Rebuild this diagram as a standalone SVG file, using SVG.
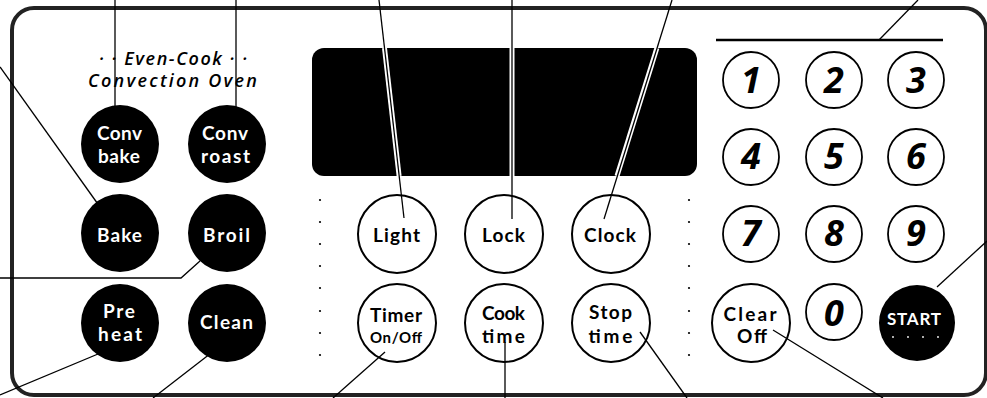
<svg xmlns="http://www.w3.org/2000/svg" width="987" height="398" viewBox="0 0 987 398">
<style>
.lbl{font-family:Lato,"Open Sans","DejaVu Sans",sans-serif;font-weight:700;font-size:19px;text-anchor:middle}
.wt{fill:#ffffff}
.bk{fill:#000000}
.dig{font-family:"Open Sans","Noto Sans","DejaVu Sans",sans-serif;font-weight:700;font-style:italic;font-size:36px;text-anchor:middle;fill:#000}
.brand{font-family:"Open Sans","Noto Sans","DejaVu Sans",sans-serif;font-weight:600;font-style:italic;font-size:18px;fill:#000}
.solid{fill:#000}
.ring{fill:#fff;stroke:#000;stroke-width:2}
.nring{fill:#fff;stroke:#000;stroke-width:1.8}
.lead{stroke:#000;stroke-width:1.3;fill:none}
.halo{stroke:#fff;stroke-width:5;fill:none}
.dot{fill:#000}
</style>
<rect x="0" y="0" width="987" height="398" fill="#fff"/>
<g id="panel">
<rect x="12" y="8" width="974" height="387" rx="22" ry="22" fill="#fff" stroke="#222" stroke-width="4"/>
<rect x="312" y="48" width="385" height="128" rx="12" ry="12" fill="#000"/>
<line x1="716" y1="40" x2="943" y2="40" stroke="#000" stroke-width="2.5"/>
<text class="brand" x="99" y="65" textLength="148" lengthAdjust="spacing">· · Even-Cook · ·</text>
<text class="brand" x="88" y="87" textLength="169" lengthAdjust="spacing">Convection Oven</text>
</g>
<g id="dots">
<circle class="dot" cx="320" cy="200" r="1.1"/><circle class="dot" cx="320" cy="222" r="1.1"/><circle class="dot" cx="320" cy="244" r="1.1"/><circle class="dot" cx="320" cy="266" r="1.1"/><circle class="dot" cx="320" cy="288" r="1.1"/><circle class="dot" cx="320" cy="311" r="1.1"/><circle class="dot" cx="320" cy="333" r="1.1"/><circle class="dot" cx="320" cy="355" r="1.1"/>
<circle class="dot" cx="689" cy="200" r="1.1"/><circle class="dot" cx="689" cy="222" r="1.1"/><circle class="dot" cx="689" cy="244" r="1.1"/><circle class="dot" cx="689" cy="266" r="1.1"/><circle class="dot" cx="689" cy="288" r="1.1"/><circle class="dot" cx="689" cy="311" r="1.1"/><circle class="dot" cx="689" cy="333" r="1.1"/><circle class="dot" cx="689" cy="355" r="1.1"/>
</g>
<g id="btn-convbake"><circle class="solid" cx="120" cy="144" r="39"/><text class="lbl wt" x="119.5" y="140" textLength="45" lengthAdjust="spacing">Conv</text><text class="lbl wt" x="119" y="163" textLength="42" lengthAdjust="spacing">bake</text></g>
<g id="btn-convroast"><circle class="solid" cx="227" cy="144" r="39"/><text class="lbl wt" x="225" y="140" textLength="46" lengthAdjust="spacing">Conv</text><text class="lbl wt" x="225.5" y="163" textLength="49" lengthAdjust="spacing">roast</text></g>
<g id="btn-bake"><circle class="solid" cx="120" cy="233" r="39"/><text class="lbl wt" x="119.5" y="242" textLength="45" lengthAdjust="spacing">Bake</text></g>
<g id="btn-broil"><circle class="solid" cx="227" cy="233" r="39"/><text class="lbl wt" x="226.5" y="242" textLength="47" lengthAdjust="spacing">Broil</text></g>
<g id="btn-preheat"><circle class="solid" cx="120" cy="323" r="39"/><text class="lbl wt" x="119" y="318" textLength="32" lengthAdjust="spacing">Pre</text><text class="lbl wt" x="120" y="341" textLength="44" lengthAdjust="spacing">heat</text></g>
<g id="btn-clean"><circle class="solid" cx="227" cy="323" r="39"/><text class="lbl wt" x="226.5" y="329" textLength="53" lengthAdjust="spacing">Clean</text></g>
<g id="btn-light"><circle class="ring" cx="397" cy="234" r="39"/><text class="lbl bk" x="396.5" y="242" textLength="47" lengthAdjust="spacing">Light</text></g>
<g id="btn-lock"><circle class="ring" cx="504" cy="234" r="39"/><text class="lbl bk" x="503.5" y="242" textLength="43" lengthAdjust="spacing">Lock</text></g>
<g id="btn-clock"><circle class="ring" cx="611" cy="234" r="39"/><text class="lbl bk" x="610" y="242" textLength="52" lengthAdjust="spacing">Clock</text></g>
<g id="btn-timer"><circle class="ring" cx="397" cy="323" r="39"/><text class="lbl bk" x="396" y="322" textLength="52" lengthAdjust="spacing">Timer</text><text class="lbl bk" x="396" y="343" style="font-size:15px" textLength="52" lengthAdjust="spacing">On/Off</text></g>
<g id="btn-cooktime"><circle class="ring" cx="504" cy="323" r="39"/><text class="lbl bk" x="503.5" y="320" textLength="43" lengthAdjust="spacing">Cook</text><text class="lbl bk" x="503.5" y="343" textLength="43" lengthAdjust="spacing">time</text></g>
<g id="btn-stoptime"><circle class="ring" cx="611" cy="323" r="39"/><text class="lbl bk" x="610.5" y="319" textLength="43" lengthAdjust="spacing">Stop</text><text class="lbl bk" x="610.5" y="343" textLength="44" lengthAdjust="spacing">time</text></g>
<g id="btn-1"><circle class="nring" cx="751" cy="80" r="28"/><text class="dig" x="751" y="93">1</text></g>
<g id="btn-2"><circle class="nring" cx="834" cy="80" r="28"/><text class="dig" x="834" y="93">2</text></g>
<g id="btn-3"><circle class="nring" cx="916" cy="80" r="28"/><text class="dig" x="916" y="93">3</text></g>
<g id="btn-4"><circle class="nring" cx="751" cy="157" r="28"/><text class="dig" x="751" y="169">4</text></g>
<g id="btn-5"><circle class="nring" cx="834" cy="157" r="28"/><text class="dig" x="834" y="169">5</text></g>
<g id="btn-6"><circle class="nring" cx="916" cy="157" r="28"/><text class="dig" x="916" y="169">6</text></g>
<g id="btn-7"><circle class="nring" cx="751" cy="234" r="28"/><text class="dig" x="751" y="246">7</text></g>
<g id="btn-8"><circle class="nring" cx="834" cy="234" r="28"/><text class="dig" x="834" y="246">8</text></g>
<g id="btn-9"><circle class="nring" cx="916" cy="234" r="28"/><text class="dig" x="916" y="246">9</text></g>
<g id="btn-0"><circle class="nring" cx="834" cy="312" r="28"/><text class="dig" x="834" y="326">0</text></g>
<g id="btn-clear"><circle class="ring" cx="751" cy="323" r="39"/><text class="lbl bk" x="750" y="321" textLength="53" lengthAdjust="spacing">Clear</text><text class="lbl bk" x="752" y="343" textLength="30" lengthAdjust="spacing">Off</text></g>
<g id="btn-start"><circle class="solid" cx="917" cy="323" r="38"/><text class="lbl wt" x="914" y="325" style="font-size:17px" textLength="54" lengthAdjust="spacing">START</text>
<circle fill="#fff" cx="893" cy="337" r="0.9"/><circle fill="#fff" cx="908" cy="337" r="0.9"/><circle fill="#fff" cx="923" cy="337" r="0.9"/><circle fill="#fff" cx="938" cy="337" r="0.9"/></g>
<g id="connectors">
<line class="halo" x1="384.5" y1="48" x2="399.1" y2="176"/>
<line class="halo" x1="512" y1="48" x2="512" y2="176"/>
<line class="halo" x1="656.9" y1="48" x2="617.0" y2="176"/>
<line class="lead" x1="379" y1="0" x2="404" y2="218"/>
<line class="lead" x1="512" y1="0" x2="512" y2="219"/>
<line class="lead" x1="672" y1="0" x2="604" y2="219"/>
<line class="lead" x1="115" y1="0" x2="115" y2="118"/>
<line class="lead" x1="236" y1="0" x2="236" y2="118"/>
<line class="lead" x1="0" y1="67" x2="100" y2="207"/>
<polyline class="lead" points="0,278 181,278 200,261"/>
<line class="lead" x1="0" y1="395" x2="110" y2="349"/>
<line class="lead" x1="153" y1="398" x2="215" y2="350"/>
<line class="lead" x1="333" y1="398" x2="385" y2="352"/>
<line class="lead" x1="505" y1="398" x2="505" y2="342"/>
<line class="lead" x1="687" y1="398" x2="640" y2="332"/>
<line class="lead" x1="773" y1="330" x2="883" y2="398"/>
<line class="lead" x1="937" y1="287" x2="987" y2="241"/>
<line class="lead" x1="879" y1="40" x2="918" y2="0"/>
</g>
</svg>
